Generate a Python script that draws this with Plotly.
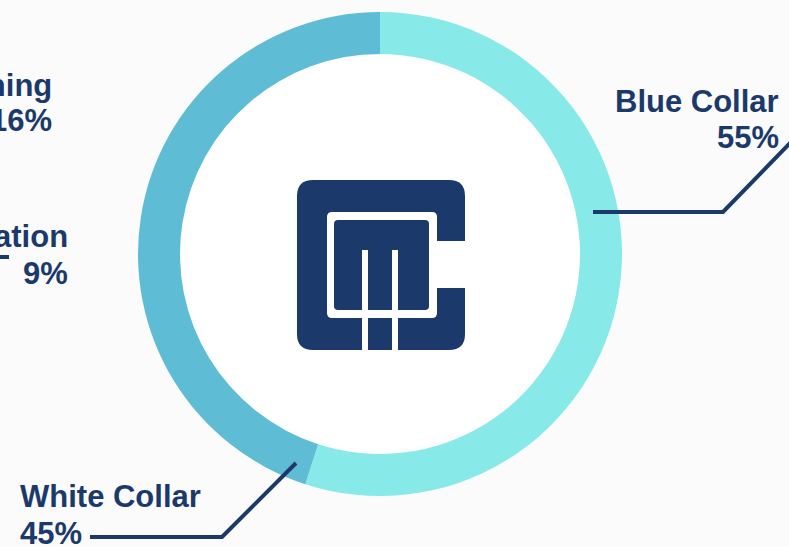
import plotly.graph_objects as go

# data
labels = ['Blue Collar', 'White Collar']
values = [55, 45]
colors = ['#87E9E8', '#5EBDD4']

# labels of the neighbouring chart, cut off at the left edge
side_labels = ['Machining', 'Fabrication']
side_values = [16, 9]

NAVY = '#1B3A6B'
W, H = 789, 547
cx, cy, r_out, r_in = 380, 254, 242, 200


def rrect(x0, y0, x1, y1, r):
    # rounded rectangle as an svg path (pixel coords, y down)
    return (f'M{x0+r},{y0} L{x1-r},{y0} Q{x1},{y0} {x1},{y0+r} '
            f'L{x1},{y1-r} Q{x1},{y1} {x1-r},{y1} L{x0+r},{y1} '
            f'Q{x0},{y1} {x0},{y1-r} L{x0},{y0+r} Q{x0},{y0} {x0+r},{y0} Z')


fig = go.Figure()
fig.add_trace(go.Pie(
    labels=labels,
    values=values,
    marker=dict(colors=colors, line=dict(width=0)),
    hole=r_in / r_out,
    sort=False,
    direction='clockwise',
    rotation=0,
    textinfo='none',
    hoverinfo='label+percent',
    showlegend=False,
    domain=dict(x=[(cx - r_out) / W, (cx + r_out) / W],
                y=[1 - (cy + r_out) / H, 1 - (cy - r_out) / H]),
))

shapes = []
# white disc inside the ring
shapes.append(dict(type='circle', xref='x', yref='y', layer='below',
                   x0=cx - r_in, x1=cx + r_in, y0=cy - r_in, y1=cy + r_in,
                   fillcolor='white', line=dict(width=0)))

# CMC logo
logo = [
    (rrect(297, 180, 465, 350, 16), NAVY),
    ('M437,241 L466,241 L466,288 L437,288 Z', 'white'),
    (rrect(327, 212, 437, 318, 5), 'white'),
    (rrect(334, 220, 429, 310, 4), NAVY),
    ('M362,250 L368,250 L368,351 L362,351 Z', 'white'),
    ('M392,250 L398,250 L398,351 L392,351 Z', 'white'),
]
for path, col in logo:
    shapes.append(dict(type='path', xref='x', yref='y', path=path,
                       fillcolor=col, line=dict(width=0), layer='above'))

# leader lines
leaders = [
    'M593,212 L723,212 L792,141',
    'M90,537 L222,537 L296,463',
    'M-5,257 L9,257',
]
for path in leaders:
    shapes.append(dict(type='path', xref='x', yref='y', path=path,
                       line=dict(color=NAVY, width=4), layer='above'))

font = dict(family='Liberation Sans, Arial, sans-serif', size=31, color=NAVY)
ann = []


def add(text, x, y, anchor):
    ann.append(dict(text=f'<b>{text}</b>', x=x, y=y, xref='x', yref='y',
                    xanchor=anchor, yanchor='middle', showarrow=False,
                    font=font))


add(labels[0], 781, 101, 'right')
add(f'{values[0]}%', 781, 137, 'right')
add(labels[1], 18, 496, 'left')
add(f'{values[1]}%', 18, 533, 'left')
add(side_labels[0], 54, 85, 'right')
add(f'{side_values[0]}%', 54, 120, 'right')
add(side_labels[1], 70, 236, 'right')
add(f'{side_values[1]}%', 70, 273, 'right')

fig.update_layout(
    width=W, height=H,
    margin=dict(l=0, r=0, t=0, b=0),
    paper_bgcolor='#FBFBFC',
    plot_bgcolor='rgba(0,0,0,0)',
    xaxis=dict(range=[0, W], visible=False, fixedrange=True),
    yaxis=dict(range=[H, 0], visible=False, fixedrange=True),
    shapes=shapes,
    annotations=ann,
)

fig.write_html('out.html',
               config={'displayModeBar': False},
               post_script="document.body.style.margin='0';"
                           "document.body.style.overflow='hidden';")
